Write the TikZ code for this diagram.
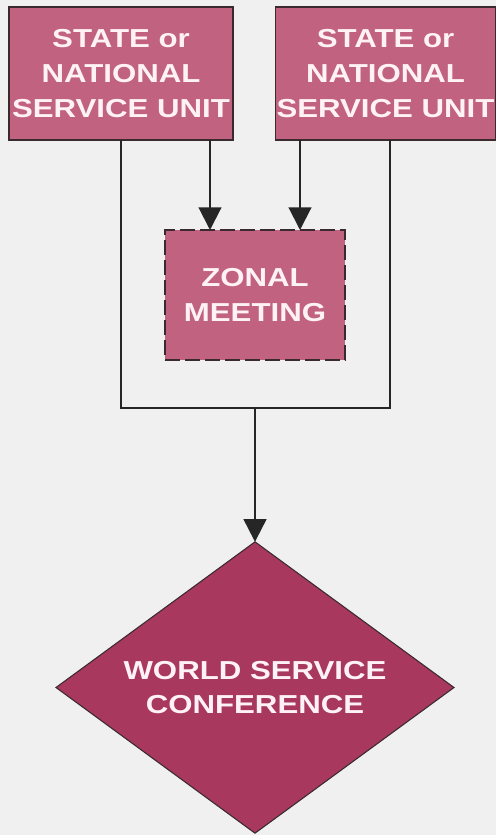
\documentclass[tikz,border=0pt]{standalone}
\usepackage{fontspec}
\usepackage{tikz}
\usetikzlibrary{arrows.meta}
\usetikzlibrary{shapes.geometric}
\usetikzlibrary{positioning}
\newfontfamily\labelfont{Liberation Sans}[FakeStretch=1.2]
\definecolor{bgcol}{HTML}{F0F0F0}
\definecolor{unitcol}{HTML}{C16280}
\definecolor{wsccol}{HTML}{A8385E}
\definecolor{edgecol}{HTML}{3A2A30}
\definecolor{txtcol}{HTML}{FFF2F6}
\tikzset{lbl/.style = {font = \labelfont\bfseries\fontsize{19.5pt}{26pt}\selectfont,
                       text = txtcol, align = center, inner sep = 0, outer sep = 0}}
\tikzset{unit/.style = {lbl, draw = edgecol, line width = 1.1pt, fill = unitcol,
                        minimum height = 99.75pt}}
\tikzset{zone/.style = {lbl, draw = edgecol, line width = 1.5pt, fill = unitcol,
                        dash pattern = on 11pt off 4pt,
                        minimum width = 135pt, minimum height = 97.5pt}}
\tikzset{wsc/.style = {lbl, diamond, draw = edgecol, line width = 0.8pt, fill = wsccol,
                       aspect = 1.37, minimum width = 298.5pt, minimum height = 218.5pt}}
\tikzset{link/.style = {draw = black!85, line width = 1.6pt}}
\tikzset{arr/.style = {link, -{Triangle[length = 17pt, width = 17pt]}}}

\begin{document}
\begin{tikzpicture}[x = 0.75pt, y = -0.75pt]
    \fill [bgcol] (0, 0) rectangle (496, 835);

    \node [unit, minimum width = 168pt] (unitA) at (121, 73.5) {STATE or\\NATIONAL\\SERVICE UNIT};
    \node [unit, minimum width = 165pt] (unitB) at (385.5, 73.5) {STATE or\\NATIONAL\\SERVICE UNIT};

    \node [zone] (zonal) at (255, 295) {ZONAL\\MEETING};
    \node [wsc] (conf) at (255, 687.5) {WORLD SERVICE\\CONFERENCE};

    \coordinate (join) at (255, 408);
    \coordinate (zinA) at ([xshift = -33.75pt]zonal.north);
    \coordinate (zinB) at ([xshift = 33.75pt]zonal.north);
    \coordinate (outB) at ([xshift = 3.5pt]unitB.south);

    \draw [arr] (zinA |- unitA.south) -- (zinA);
    \draw [arr] (zinB |- unitB.south) -- (zinB);

    \draw [link] (unitA.south) |- (join) -| (outB);
    \draw [arr] (join) -- (conf.north);
  \end{tikzpicture}
\end{document}
